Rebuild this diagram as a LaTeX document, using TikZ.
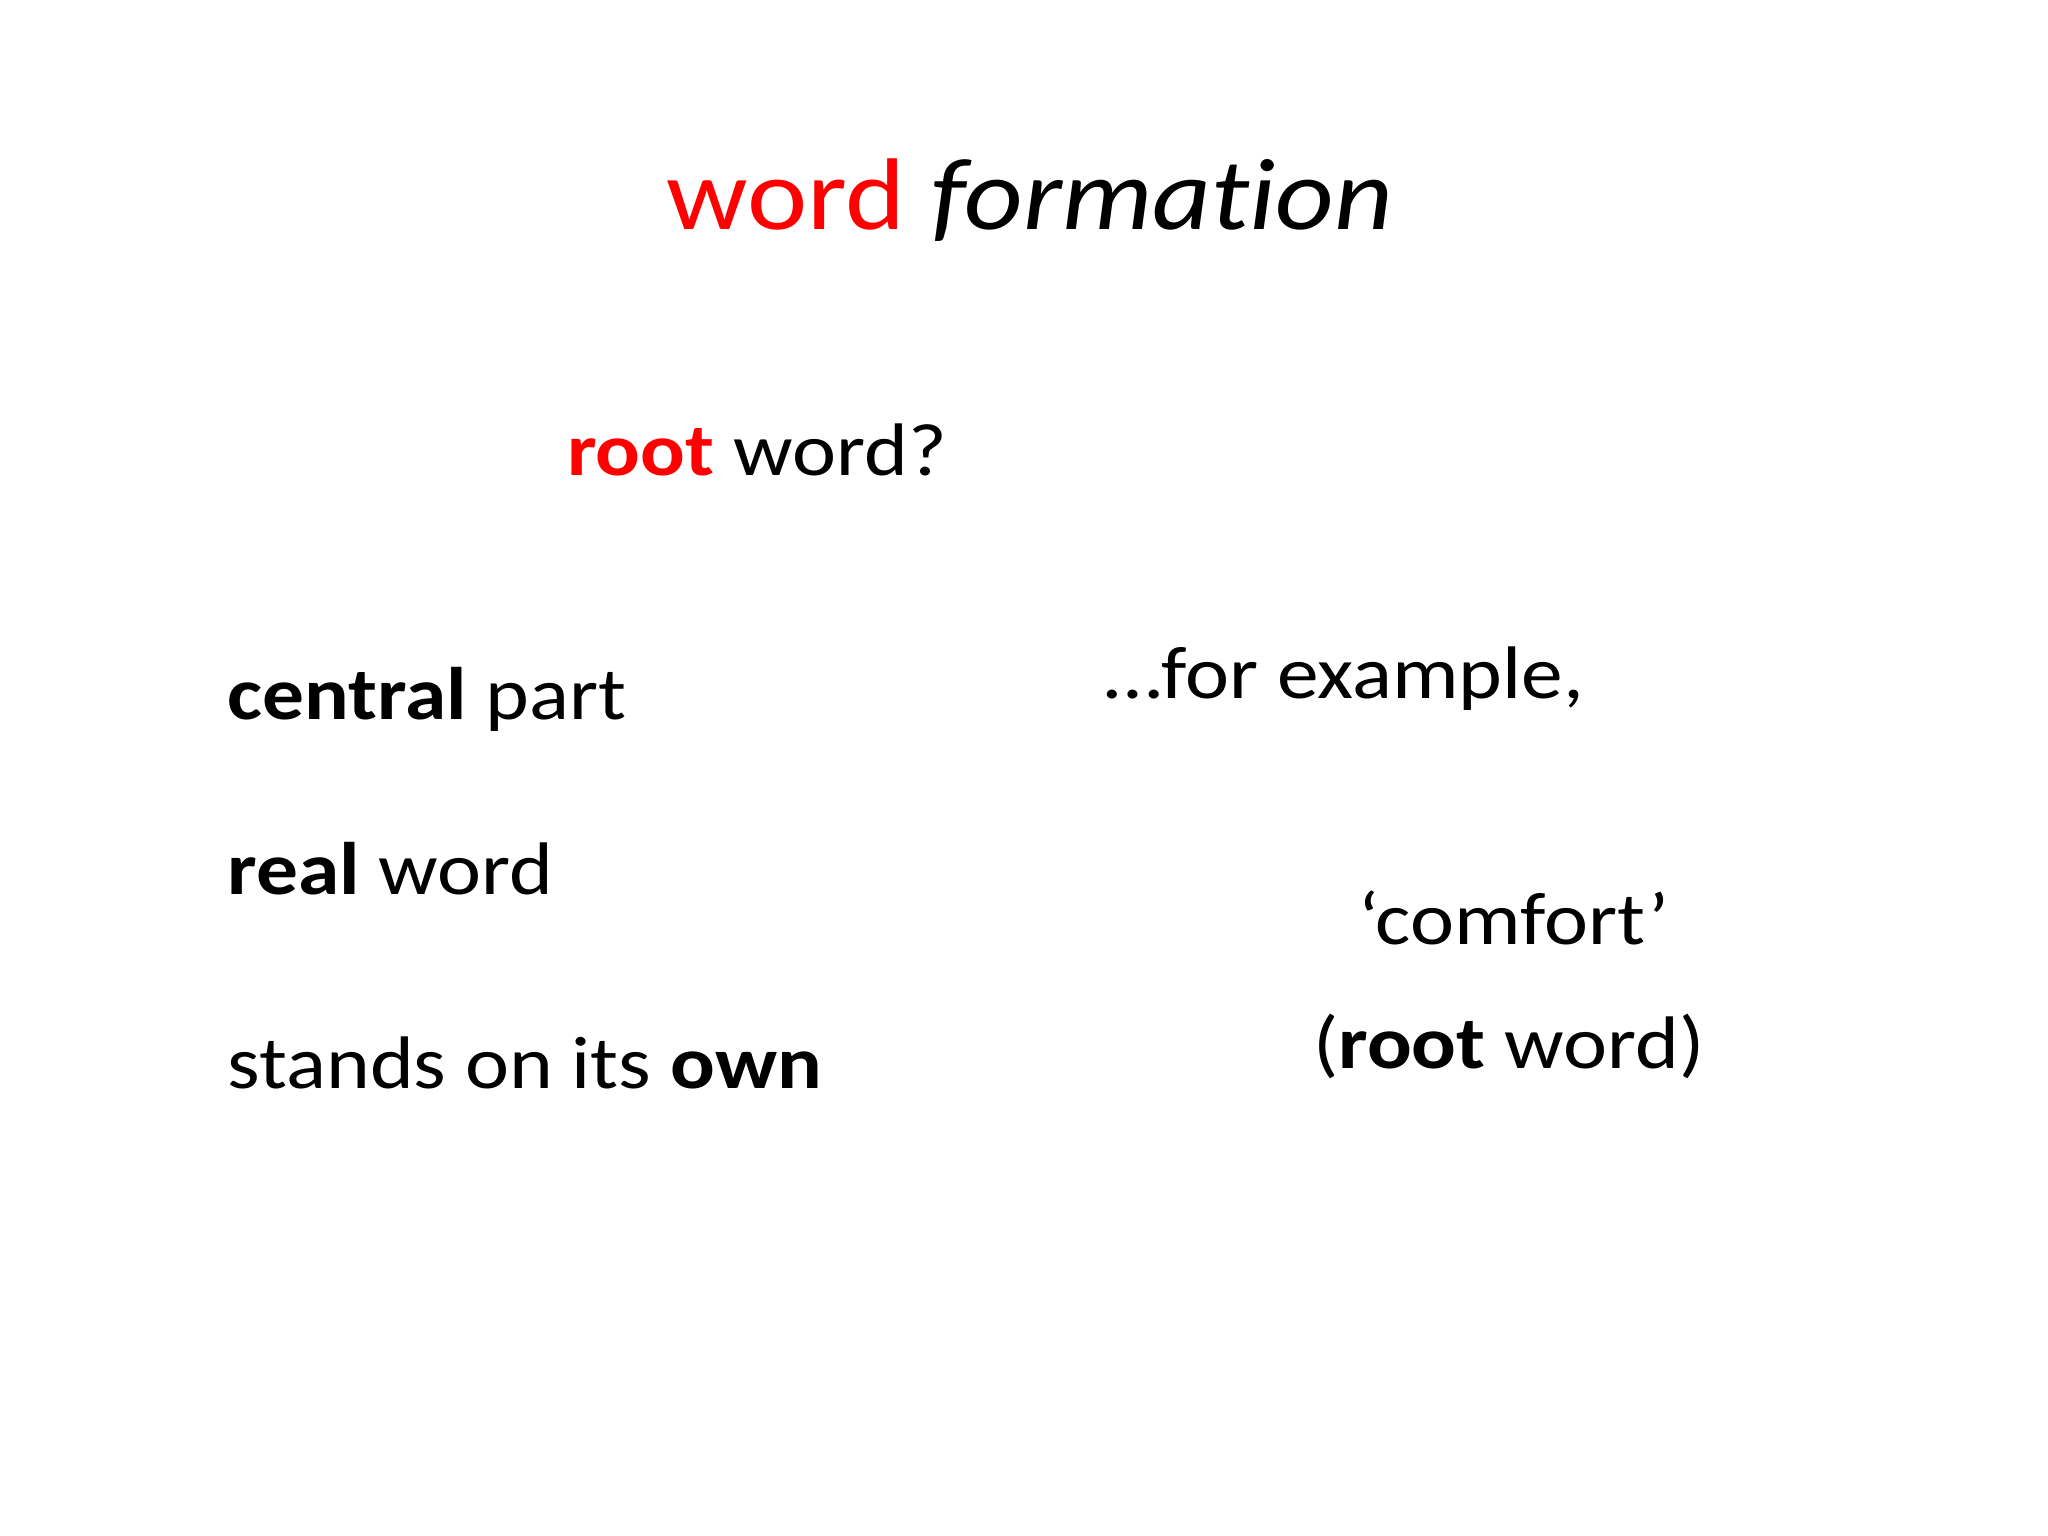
\documentclass[tikz,border=0pt]{standalone}
\usepackage{fontspec}
\setmainfont{Carlito}[FakeStretch=1.12,Ligatures={NoCommon,NoContextual}]
\definecolor{rred}{RGB}{255,0,0}
\begin{document}
\begin{tikzpicture}[x=0.5pt,y=-0.5pt,
  txt/.style={anchor=base west,inner sep=0pt,font=\fontsize{28.5}{34}\selectfont}]
\useasboundingbox[fill=white] (0,0) rectangle (1568,1176);
\node[anchor=base west,inner sep=0pt,font=\fontsize{39}{46}\selectfont] (title) at (510,176) {\textcolor{rred}{word} \textit{formation}};
\node[txt] (q) at (434,364) {\textcolor{rred}{\textbf{root}} word?};
\node[txt] (c) at (174,551) {\textbf{central} part};
\node[txt] (r) at (174,685) {\textbf{real} word};
\node[txt] (s) at (174,833) {stands on its \textbf{own}};
\node[txt] (e) at (845,535) {…for example,};
\node[txt] (cf) at (1040,723) {‘comfort’};
\node[txt] (rw) at (1005,818) {(\textbf{root} word)};
\end{tikzpicture}
\end{document}
